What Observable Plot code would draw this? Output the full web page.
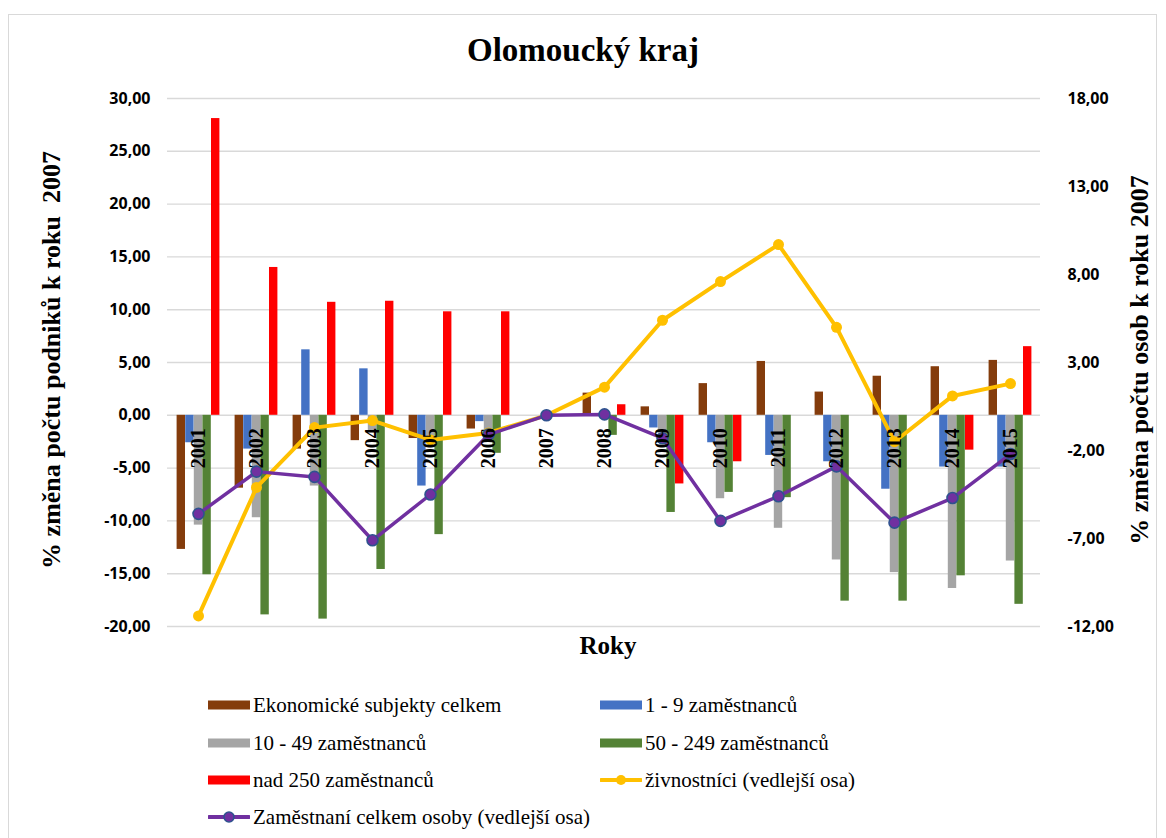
<!DOCTYPE html>
<html>
<head>
<meta charset="utf-8">
<script src="https://cdn.jsdelivr.net/npm/d3@7"></script>
<script src="https://cdn.jsdelivr.net/npm/@observablehq/plot@0.6"></script>
<style>
  body { margin: 0; background: #fff; }
  #wrap { position: relative; width: 1166px; height: 838px; overflow: hidden; font-family: "Liberation Serif", "Times New Roman", serif; color: #000; }
  #frame { position: absolute; left: 8px; top: 14px; width: 1149px; height: 850px; border: 1px solid #d9d9d9; box-sizing: border-box; }
  #chart { position: absolute; left: 0; top: 0; }
  #title { position: absolute; top: 34px; left: 0; width: 1166px; text-align: center; font-weight: bold; font-size: 33px; line-height: 1; }
  .ytitle { position: absolute; font-weight: bold; font-size: 26px; line-height: 1; white-space: pre; transform: translate(-50%, -50%) rotate(-90deg); }
  #xtitle { position: absolute; left: 608px; top: 645px; transform: translate(-50%, -50%); font-weight: bold; font-size: 25px; line-height: 1; }
  .leg { position: absolute; display: flex; align-items: center; height: 26px; font-size: 21px; white-space: nowrap; }
  .leg svg { margin-right: 3px; }
</style>
</head>
<body>
<div id="wrap">
  <div id="frame"></div>
  <div id="chart"></div>
  <div id="title">Olomoucký kraj</div>
  <div class="ytitle" id="ytl" style="left:52px; top:360px;">% změna počtu podniků k roku  2007</div>
  <div class="ytitle" id="ytr" style="left:1140px; top:360px;">% změna počtu osob k roku 2007</div>
  <div id="xtitle">Roky</div>
  <div id="legend"></div>
</div>
<script>
// ---- data ----
const years = ["2001","2002","2003","2004","2005","2006","2007","2008","2009","2010","2011","2012","2013","2014","2015"];
const ekonomicke = [-12.7, -6.9, -3.2, -2.4, -2.2, -1.3, 0, 2.1, 0.8, 3.0, 5.1, 2.2, 3.7, 4.6, 5.2];
const zam1_9 = [-2.6, -3.2, 6.2, 4.4, -6.7, -0.6, 0, 0, -1.2, -2.6, -3.8, -4.4, -7.0, -4.9, -4.9];
const zam10_49 = [-10.4, -9.7, -6.7, -1.5, -2.5, -2.0, 0, -0.4, -2.5, -7.9, -10.7, -13.7, -14.9, -16.4, -13.8];
const zam50_249 = [-15.1, -18.9, -19.3, -14.6, -11.3, -3.6, 0, -1.9, -9.2, -7.3, -7.8, -17.6, -17.6, -15.2, -17.9];
const nad250 = [28.1, 14.0, 10.7, 10.8, 9.8, 9.8, 0, 1.0, -6.5, -4.4, 0, 0, 0, -3.3, 6.5];
const zivnostnici = [-11.4, -4.1, -0.7, -0.3, -1.4, -1.0, 0, 1.6, 5.4, 7.6, 9.7, 5.0, -1.5, 1.1, 1.8];
const zamestnani = [-5.6, -3.2, -3.5, -7.1, -4.5, -1.1, 0, 0.05, -1.3, -6.0, -4.6, -2.9, -6.1, -4.7, -2.2];

const leftTicks = [-20, -15, -10, -5, 0, 5, 10, 15, 20, 25, 30];
const rightTicks = [-12, -7, -2, 3, 8, 13, 18];

const barSeries = [
  {name: "Ekonomické subjekty celkem", values: ekonomicke, color: "#843C0C"},
  {name: "1 - 9 zaměstnanců", values: zam1_9, color: "#4472C4"},
  {name: "10 - 49 zaměstnanců", values: zam10_49, color: "#A5A5A5"},
  {name: "50 - 249 zaměstnanců", values: zam50_249, color: "#548235"},
  {name: "nad 250 zaměstnanců", values: nad250, color: "#FF0000"}
];
const lineSeries = [
  {name: "živnostníci (vedlejší osa)", values: zivnostnici, color: "#FFC000", stroke: "#FFC000"},
  {name: "Zaměstnaní celkem osoby (vedlejší osa)", values: zamestnani, color: "#7030A0", stroke: "#2F528F"}
];

// ---- layout ----
const W = 1166, H = 680;
const mL = 167, mR = 126, mT = 98, mB = 54;
const leftDomain = [-20, 30];
const rightDomain = [-12, 18];
const k = (leftDomain[1] - leftDomain[0]) / (rightDomain[1] - rightDomain[0]); // right -> left units
const bw = (W - mL - mR) / years.length;
const barW = 8.6;
const fmt = v => v.toFixed(2).replace(".", ",");
const tickFont = {fontFamily: "'Open Sans', 'Liberation Sans', sans-serif", fontSize: 16, fontWeight: "bold"};

const marks = [
  Plot.gridY(leftTicks, {stroke: "#d9d9d9", strokeOpacity: 1, strokeWidth: 1.4}),
  Plot.axisY(leftTicks, {anchor: "left", tickSize: 0, tickPadding: 17, tickFormat: fmt, label: null, fill: "#000", ...tickFont}),
  Plot.axisY(rightTicks.map(v => v * k), {anchor: "right", tickSize: 0, tickPadding: 27, textAnchor: "start", tickFormat: d => fmt(d / k), label: null, fill: "#000", ...tickFont})
];
barSeries.forEach((s, i) => {
  const left = bw / 2 + (i - 2.5) * barW;
  marks.push(Plot.barY(s.values, {x: years, y: s.values, fill: s.color, insetLeft: left, insetRight: bw - left - barW}));
});
lineSeries.forEach((s, i) => {
  const yv = s.values.map(v => v * k);
  marks.push(Plot.line(yv, {x: years, y: yv, stroke: s.color, strokeWidth: i === 0 ? 4 : 3.5, strokeLinejoin: "round", strokeLinecap: "round"}));
  marks.push(Plot.dot(yv, {x: years, y: yv, r: 5.5, fill: s.color, stroke: s.stroke, strokeWidth: i === 0 ? 0 : 1.6}));
});
marks.push(Plot.text(years, {x: years, y: 0, text: years, rotate: -90, textAnchor: "end", lineAnchor: "middle", dy: 13, fontSize: 20, fontWeight: "bold", fontFamily: "'Liberation Serif', 'Times New Roman', serif", fill: "#000"}));

const chart = Plot.plot({
  width: W, height: H,
  marginLeft: mL, marginRight: mR, marginTop: mT, marginBottom: mB,
  x: {type: "band", domain: years, padding: 0, axis: null},
  y: {domain: leftDomain, axis: null},
  style: {background: "transparent", overflow: "visible"},
  marks
});
document.getElementById("chart").appendChild(chart);

// ---- legend ----
const legend = document.getElementById("legend");
const items = [...barSeries.map(s => ({...s, type: "bar"})), ...lineSeries.map(s => ({...s, type: "line"}))];
const colX = [208, 600];
const rowY = [705, 743, 780, 817];
items.forEach((it, idx) => {
  const col = idx % 2, row = Math.floor(idx / 2);
  const div = document.createElement("div");
  div.className = "leg";
  div.style.left = colX[col] + "px";
  div.style.top = (rowY[row] - 13) + "px";
  let sw;
  if (it.type === "bar") {
    sw = `<svg width="42" height="12"><rect x="0" y="1.5" width="42" height="9" fill="${it.color}"/></svg>`;
  } else {
    sw = `<svg width="42" height="14"><line x1="1" y1="7" x2="41" y2="7" stroke="${it.color}" stroke-width="4" stroke-linecap="round"/><circle cx="21" cy="7" r="5" fill="${it.color}" stroke="${it.stroke}" stroke-width="${it.stroke === it.color ? 0 : 1.6}"/></svg>`;
  }
  div.innerHTML = sw + `<span>${it.name}</span>`;
  legend.appendChild(div);
});
</script>
</body>
</html>
